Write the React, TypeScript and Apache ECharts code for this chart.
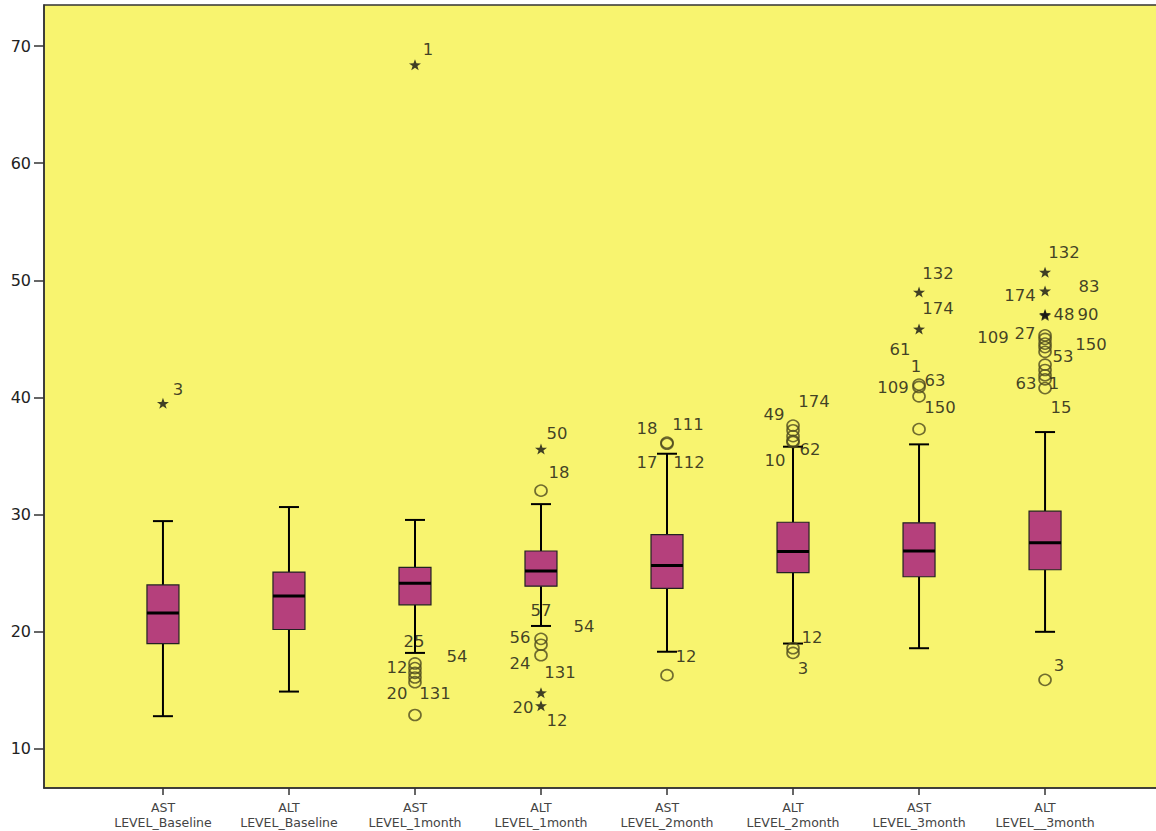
import React, { useEffect, useRef } from "react";
import * as echarts from "echarts";

const categories = [
  "AST\nLEVEL_Baseline",
  "ALT\nLEVEL_Baseline",
  "AST\nLEVEL_1month",
  "ALT\nLEVEL_1month",
  "AST\nLEVEL_2month",
  "ALT\nLEVEL_2month",
  "AST\nLEVEL_3month",
  "ALT\nLEVEL__3month",
];

const whiskerLow = [12.8, 14.9, 18.2, 20.5, 18.3, 19.0, 18.6, 20.0];
const q1 = [19.0, 20.2, 22.3, 23.9, 23.7, 25.05, 24.7, 25.3];
const median = [21.6, 23.05, 24.15, 25.2, 25.65, 26.85, 26.9, 27.6];
const q3 = [24.0, 25.1, 25.5, 26.9, 28.3, 29.35, 29.3, 30.3];
const whiskerHigh = [29.45, 30.65, 29.55, 30.9, 35.2, 35.8, 36.0, 37.05];

const yTicks = [10, 20, 30, 40, 50, 60, 70];

// [category index, value]
const circleOutliers: [number, number][] = [
  [2, 17.3], [2, 16.9], [2, 16.5], [2, 16.1], [2, 15.7], [2, 12.9],
  [3, 32.05], [3, 19.4], [3, 18.9], [3, 18.0],
  [4, 36.15], [4, 36.05], [4, 16.3],
  [5, 37.6], [5, 37.2], [5, 36.7], [5, 36.3], [5, 36.2], [5, 18.6], [5, 18.2],
  [6, 41.1], [6, 40.9], [6, 40.1], [6, 37.3],
  [7, 45.3], [7, 45.0], [7, 44.6], [7, 44.3], [7, 43.9], [7, 42.8], [7, 42.35], [7, 41.9], [7, 41.55], [7, 40.8], [7, 15.9],
];

const extremeOutliers: [number, number][] = [
  [0, 39.5], [2, 68.4], [3, 35.6], [3, 14.8], [3, 13.7],
  [6, 49.0], [6, 45.85], [7, 50.7], [7, 49.1], [7, 47.1], [7, 47.0],
];

// [category index, anchor value, case number]
const caseLabels: [number, number, string][] = [
  [0, 39.5, "3"],
  [2, 68.4, "1"],
  [2, 17.3, "25"], [2, 16.9, "12"], [2, 16.5, "54"], [2, 16.1, "131"], [2, 15.7, "20"],
  [3, 35.6, "50"], [3, 32.05, "18"], [3, 19.4, "57"], [3, 19.4, "54"], [3, 18.9, "56"], [3, 18.0, "24"], [3, 14.8, "131"], [3, 13.7, "20"], [3, 13.7, "12"],
  [4, 36.1, "18"], [4, 36.1, "111"], [4, 36.1, "17"], [4, 36.1, "112"], [4, 16.3, "12"],
  [5, 37.6, "49"], [5, 37.6, "174"], [5, 36.2, "10"], [5, 36.2, "62"], [5, 18.6, "12"], [5, 18.2, "3"],
  [6, 49.0, "132"], [6, 45.85, "174"], [6, 41.1, "61"], [6, 41.1, "1"], [6, 41.1, "109"], [6, 41.1, "63"], [6, 40.1, "150"],
  [7, 50.7, "132"], [7, 49.1, "83"], [7, 49.1, "174"], [7, 47.05, "48"], [7, 47.05, "90"], [7, 45.3, "109"], [7, 45.3, "27"], [7, 44.6, "150"], [7, 43.9, "53"], [7, 40.8, "63"], [7, 40.8, "1"], [7, 40.8, "15"], [7, 15.9, "3"],
];

// pixel offsets of each case label from its anchor point (style)
const labelOffsets: [number, number][] = [
  [15, -14],
  [13, -15],
  [-1, -22], [-18, -1], [42, -16], [20, 16], [-18, 11],
  [16, -16], [18, -18], [0, -28], [43, -12], [-21, -7], [-21, 8], [19, -20], [-18, 2], [16, 15],
  [-20, -15], [21, -19], [-20, 19], [22, 19], [19, -19],
  [-19, -11], [21, -24], [-18, 18], [17, 7], [19, -11], [10, 16],
  [19, -19], [19, -20], [-19, -35], [-3, -18], [-26, 3], [16, -4], [21, 11],
  [19, -20], [44, -4], [-25, 5], [19, 0], [43, 0], [-52, 2], [-20, -2], [46, 1], [18, 5], [-19, -5], [9, -5], [16, 19], [14, -14],
];

const STAR =
  "path://M0 -1 L0.235 -0.324 L0.951 -0.309 L0.380 0.124 L0.588 0.809 L0 0.4 L-0.588 0.809 L-0.380 0.124 L-0.951 -0.309 L-0.235 -0.324 Z";

export default function App() {
  const ref = useRef<HTMLDivElement>(null);

  useEffect(() => {
    if (!ref.current) return;
    const chart = echarts.init(ref.current, null, { renderer: "svg" });

    const boxData = categories.map((_, i) => [
      i,
      whiskerLow[i],
      q1[i],
      median[i],
      q3[i],
      whiskerHigh[i],
    ]);

    const option: any = {
      animation: false,
      backgroundColor: "#ffffff",
      grid: {
        left: 44,
        top: 5,
        right: 0,
        bottom: 43,
        show: true,
        backgroundColor: "#F8F46F",
        borderColor: "#333333",
        borderWidth: 1.5,
      },
      xAxis: {
        type: "value",
        min: -0.944,
        max: 7.944,
        splitLine: { show: false },
        axisLine: { show: true, onZero: false, lineStyle: { color: "#333333", width: 1.5 } },
        axisTick: {
          show: true,
          length: 7,
          customValues: categories.map((_, i) => i),
          lineStyle: { color: "#333333", width: 1.5 },
        },
        axisLabel: {
          customValues: categories.map((_, i) => i),
          formatter: (v: number) => categories[Math.round(v)] ?? "",
          fontFamily: "DejaVu Sans",
          fontSize: 12.5,
          lineHeight: 15,
          color: "#444444",
          margin: 12,
        },
      },
      yAxis: {
        type: "value",
        min: 6.67,
        max: 73.5,
        splitLine: { show: false },
        axisLine: { show: true, onZero: false, lineStyle: { color: "#333333", width: 1.5 } },
        axisTick: {
          show: true,
          length: 10,
          customValues: yTicks,
          lineStyle: { color: "#333333", width: 1.5 },
        },
        axisLabel: {
          customValues: yTicks,
          fontFamily: "DejaVu Sans",
          fontSize: 16,
          color: "#222222",
          margin: 13,
        },
      },
      series: [
        {
          type: "custom",
          data: boxData,
          encode: { x: 0, y: [1, 2, 3, 4, 5] },
          z: 2,
          renderItem: (params: any, api: any) => {
            const c = api.value(0);
            const pLo = api.coord([c, api.value(1)]);
            const pQ1 = api.coord([c, api.value(2)]);
            const pMed = api.coord([c, api.value(3)]);
            const pQ3 = api.coord([c, api.value(4)]);
            const pHi = api.coord([c, api.value(5)]);
            const x = pMed[0];
            const bw = 32;
            const cw = 20;
            const lineStyle = { stroke: "#000000", lineWidth: 2 };
            return {
              type: "group",
              children: [
                { type: "line", shape: { x1: x, y1: pHi[1], x2: x, y2: pQ3[1] }, style: lineStyle },
                { type: "line", shape: { x1: x, y1: pQ1[1], x2: x, y2: pLo[1] }, style: lineStyle },
                { type: "line", shape: { x1: x - cw / 2, y1: pHi[1], x2: x + cw / 2, y2: pHi[1] }, style: lineStyle },
                { type: "line", shape: { x1: x - cw / 2, y1: pLo[1], x2: x + cw / 2, y2: pLo[1] }, style: lineStyle },
                {
                  type: "rect",
                  shape: { x: x - bw / 2, y: pQ3[1], width: bw, height: pQ1[1] - pQ3[1] },
                  style: { fill: "#B5407C", stroke: "#222222", lineWidth: 1.2 },
                },
                {
                  type: "line",
                  shape: { x1: x - bw / 2, y1: pMed[1], x2: x + bw / 2, y2: pMed[1] },
                  style: { stroke: "#000000", lineWidth: 3 },
                },
              ],
            };
          },
        },
        {
          type: "scatter",
          data: circleOutliers,
          symbol: "circle",
          symbolSize: [12, 11],
          z: 3,
          itemStyle: {
            color: "rgba(0,0,0,0)",
            borderColor: "#4d4a1e",
            borderWidth: 1.6,
          },
        },
        {
          type: "scatter",
          data: extremeOutliers,
          symbol: STAR,
          symbolSize: [12, 11],
          z: 3,
          itemStyle: { color: "#111111" },
        },
        {
          type: "scatter",
          silent: true,
          z: 4,
          symbolSize: 1,
          itemStyle: { color: "rgba(0,0,0,0)" },
          data: caseLabels.map((d, i) => ({
            value: [d[0], d[1]],
            label: {
              show: true,
              position: "inside",
              offset: labelOffsets[i],
              formatter: d[2],
              fontFamily: "DejaVu Sans",
              fontSize: 16.5,
              color: "#111111",
              align: "center",
              verticalAlign: "middle",
            },
          })),
        },
      ],
    };

    chart.setOption(option);
    return () => chart.dispose();
  }, []);

  return (
    <div
      ref={ref}
      style={{ position: "fixed", left: 0, top: 0, width: 1164, height: 831 }}
    />
  );
}
